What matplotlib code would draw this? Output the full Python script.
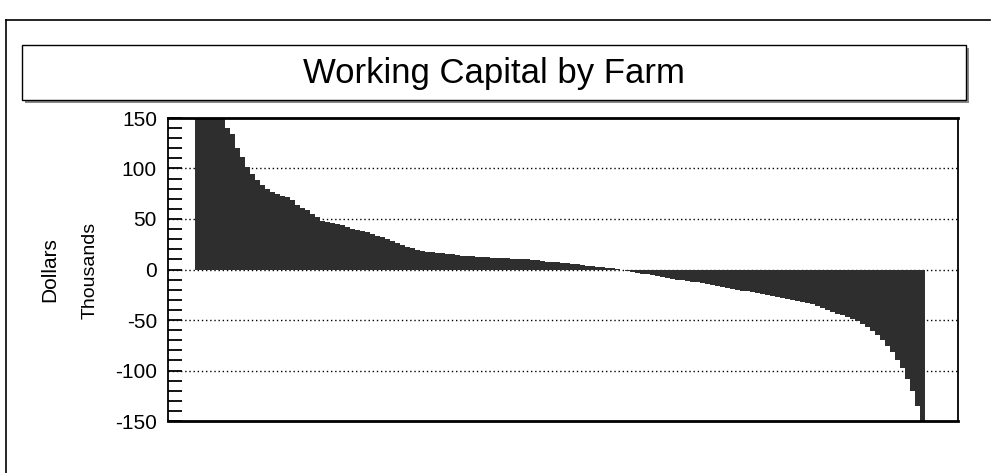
import matplotlib.pyplot as plt
from matplotlib.patches import Rectangle
from matplotlib.ticker import MultipleLocator

plt.rcParams['axes.unicode_minus'] = False

# working capital per farm, thousands of dollars, sorted high to low
farm_values = [
    260, 230, 205, 185, 170, 158, 140, 134, 120, 111,
    101, 95, 89, 84, 80, 77, 75, 73, 72, 69,
    64, 61, 59, 55, 52, 48, 47, 46, 45, 44,
    42, 40, 39, 38, 37, 35, 33, 32, 30, 28,
    26, 24, 22, 21, 19, 18, 17.5, 17, 16.5, 16,
    15.5, 15, 14, 13.5, 13, 13, 12.5, 12, 12, 11.5,
    11.5, 11, 11, 10.5, 10, 10, 10, 9.5, 9, 8,
    7.5, 7.5, 7, 6.5, 6, 5.5, 5, 4.5, 3.5, 3,
    2.5, 2, 1.5, 1, 0.5, -0.5, -1.5, -2, -3, -4,
    -4.5, -5.5, -6, -7, -8, -9, -10, -10.5, -11.5, -12,
    -12.5, -13, -14, -15, -16.5, -17.5, -18.5, -19, -20, -21,
    -21.5, -22, -23, -24, -25, -26, -27, -28.5, -29.5, -30.5,
    -31, -32, -33, -34, -36, -38, -40, -42, -44, -45,
    -47, -49, -51, -54, -57, -61, -65, -70, -76, -82,
    -90, -98, -108, -120, -135, -190,
]
farms = list(range(len(farm_values)))
y_ticks = [-150, -100, -50, 0, 50, 100, 150]
grid_levels = [-100, -50, 0, 50, 100]

fig = plt.figure(figsize=(9.96, 4.73), dpi=100)
fig.patch.set_facecolor('white')

# outer frame of the scanned page
fig.add_artist(plt.Line2D([6/996, 6/996], [0, 1 - 20/473], color='black', lw=1.2))
fig.add_artist(plt.Line2D([6/996, 990/996], [1 - 20/473, 1 - 20/473], color='black', lw=1.2))

# title box with shadow
bx0, bx1 = 22/996, 966/996
by0, by1 = 1 - 100/473, 1 - 45/473
fig.add_artist(Rectangle((bx0 + 3/996, by0 - 3/473), bx1 - bx0, by1 - by0,
                         transform=fig.transFigure, facecolor='#888888', edgecolor='none', zorder=1))
fig.add_artist(Rectangle((bx0, by0), bx1 - bx0, by1 - by0, transform=fig.transFigure,
                         facecolor='white', edgecolor='black', lw=1.0, zorder=2))
fig.text((bx0 + bx1) / 2, (by0 + by1) / 2 - 1/473, 'Working Capital by Farm',
         family='Liberation Sans', fontsize=25, ha='center', va='center', zorder=3)

ax = fig.add_axes([168/996, 52/473, 790/996, 303/473])
ax.bar(farms, farm_values, width=1.0, color='#2e2e2e', edgecolor='none', zorder=2)
for g in grid_levels:
    ax.axhline(g, color='black', lw=1.0, ls=(0, (1, 2)), zorder=1)

ax.set_xlim(-5.9, 152.1)
ax.set_ylim(-150, 150)
ax.set_xticks([])
ax.set_yticks(y_ticks)
ax.yaxis.set_minor_locator(MultipleLocator(10))
ax.tick_params(axis='y', which='both', direction='in', length=10, width=1.3,
               labelsize=15, pad=8)
for lab in ax.get_yticklabels():
    lab.set_family('Liberation Sans')
for side in ['top', 'bottom']:
    ax.spines[side].set_linewidth(2)
for side in ['left', 'right']:
    ax.spines[side].set_linewidth(1.3)

fig.text(50/996, 1 - 270/473, 'Dollars', rotation=90, family='Liberation Sans',
         fontsize=15, ha='center', va='center')
fig.text(90/996, 1 - 270/473, 'Thousands', rotation=90, family='Liberation Sans',
         fontsize=14, ha='center', va='center')

fig.savefig('out.png', dpi=100)
